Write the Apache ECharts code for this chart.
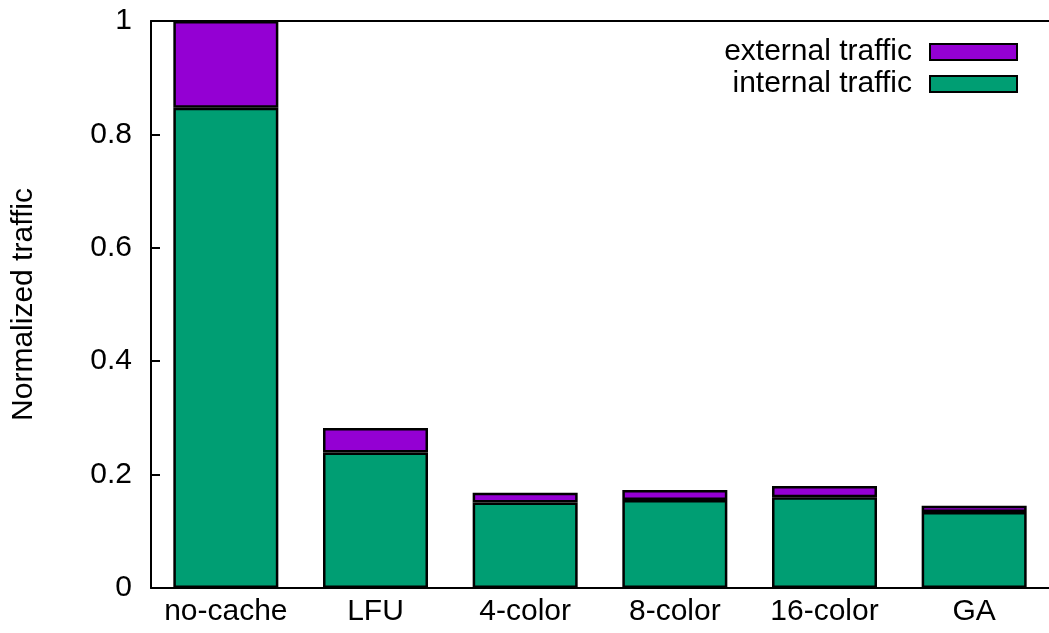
<!DOCTYPE html>
<html>
<head>
<meta charset="utf-8">
<script src="https://cdn.jsdelivr.net/npm/echarts@6/dist/echarts.min.js"></script>
<style>
  html, body { margin: 0; padding: 0; background: #fff; }
  #chart { width: 1049px; height: 633px; }
</style>
</head>
<body>
<div id="chart"></div>
<script>
const categories = ['no-cache', 'LFU', '4-color', '8-color', '16-color', 'GA']
const internalTraffic = [0.847, 0.239, 0.151, 0.155, 0.160, 0.134]
const externalTraffic = [0.153, 0.043, 0.017, 0.018, 0.020, 0.011]
const yTicks = [0, 0.2, 0.4, 0.6, 0.8, 1]

const font = 'Liberation Sans, Arial, sans-serif'
const chart = echarts.init(document.getElementById('chart'))

chart.setOption({
  animation: false,
  backgroundColor: '#fff',
  grid: { left: 151, top: 21, bottom: 45, right: -6 },
  legend: {
    orient: 'vertical',
    right: 26,
    top: 32,
    align: 'right',
    icon: 'rect',
    itemWidth: 87,
    itemHeight: 16,
    itemGap: 2,
    data: ['external traffic', 'internal traffic'],
    textStyle: { fontFamily: font, fontSize: 30, color: '#000', padding: [0, 13, 0, 0] }
  },
  xAxis: [{
    type: 'category',
    data: categories,
    axisLine: { lineStyle: { color: '#000', width: 2 } },
    axisTick: { show: false },
    axisLabel: { interval: 0, color: '#000', fontFamily: font, fontSize: 30, margin: 9 }
  }, {
    type: 'category',
    position: 'top',
    data: categories,
    axisLine: { lineStyle: { color: '#000', width: 2 } },
    axisTick: { show: false },
    axisLabel: { show: false }
  }],
  yAxis: {
    type: 'value',
    min: 0,
    max: 1,
    interval: 0.2,
    name: 'Normalized traffic',
    nameLocation: 'middle',
    nameRotate: 90,
    nameGap: 112,
    nameTextStyle: { color: '#000', fontFamily: font, fontSize: 30 },
    axisLine: { show: true, lineStyle: { color: '#000', width: 2 } },
    axisTick: { show: true, inside: true, length: 9, lineStyle: { color: '#000', width: 2 } },
    axisLabel: {
      color: '#000', fontFamily: font, fontSize: 30, margin: 19,
      formatter: v => String(yTicks.find(t => Math.abs(t - v) < 1e-9) ?? v)
    },
    splitLine: { show: false }
  },
  series: [{
    name: 'internal traffic',
    type: 'bar',
    stack: 'traffic',
    barWidth: 105,
    data: internalTraffic,
    itemStyle: { color: '#009E73', borderColor: '#000', borderWidth: 2.5 }
  }, {
    name: 'external traffic',
    type: 'bar',
    stack: 'traffic',
    barWidth: 105,
    data: externalTraffic,
    itemStyle: { color: '#9400D3', borderColor: '#000', borderWidth: 2.5 }
  }]
})
</script>
</body>
</html>
